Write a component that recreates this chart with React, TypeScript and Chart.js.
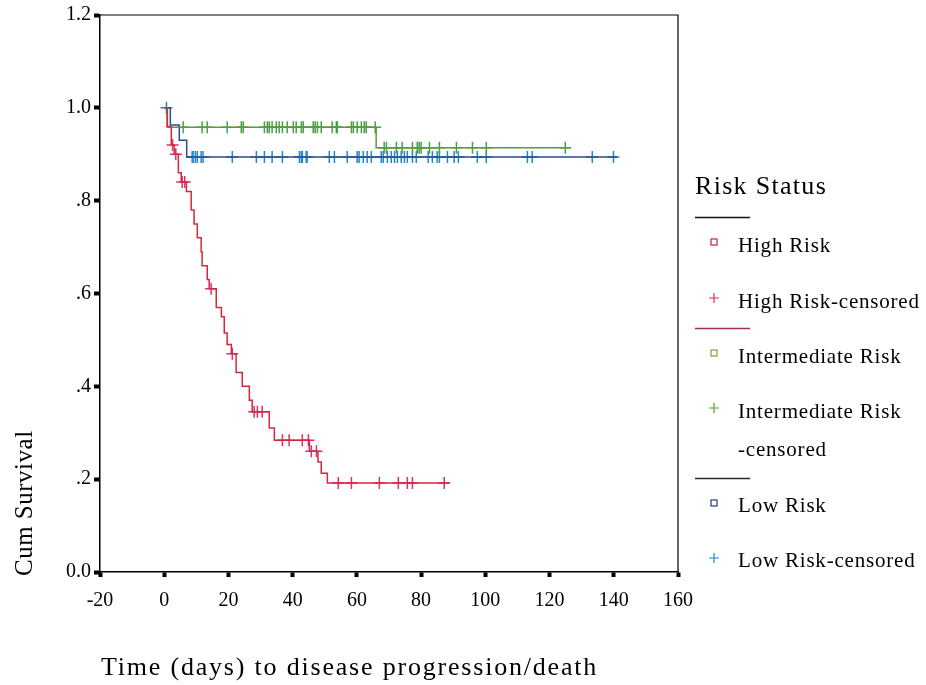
import React, { useEffect, useRef } from 'react';
import { Chart, registerables } from 'chart.js';

Chart.register(...registerables);

// ---- Data ----
const xTickValues = [-20, 0, 20, 40, 60, 80, 100, 120, 140, 160];
const yTickValues = [0, 0.2, 0.4, 0.6, 0.8, 1.0, 1.2];

const highRiskTimes = [0, 0.9, 2.2, 3.1, 4.4, 5.3, 6.9, 8.4, 9.3, 10.3, 11.5, 11.8, 13.4, 14.0, 16.2, 17.8, 18.7, 19.6, 20.9, 22.4, 24.3, 26.5, 27.4, 32.7, 34.3, 45.2, 47.9, 48.9, 50.8, 88.8];
const highRiskSurv = [1.0, 0.96, 0.92, 0.9, 0.86, 0.84, 0.82, 0.78, 0.75, 0.72, 0.69, 0.66, 0.63, 0.61, 0.57, 0.55, 0.515, 0.49, 0.47, 0.43, 0.4, 0.37, 0.345, 0.31, 0.284, 0.26, 0.237, 0.213, 0.192, 0.192];
const highRiskCensored = [2.6, 3.6, 5.6, 6.4, 14.6, 21.2, 28.0, 29.0, 30.5, 36.8, 38.9, 43.0, 44.9, 45.8, 47.4, 54.2, 58.3, 67.0, 72.9, 75.7, 77.3, 87.2];

const interTimes = [0, 1.0, 66.0, 126.2];
const interSurv = [1.0, 0.958, 0.914, 0.914];
const interCensored = [5.9, 11.8, 13.4, 19.6, 24.0, 24.6, 31.2, 32.1, 32.7, 33.6, 34.9, 35.8, 36.8, 38.3, 40.2, 41.1, 42.7, 43.3, 46.4, 47.0, 47.7, 48.9, 52.3, 53.6, 53.9, 58.3, 58.9, 60.1, 61.4, 62.3, 62.9, 65.7, 68.5, 69.2, 72.3, 74.1, 77.3, 78.8, 79.4, 80.0, 82.6, 85.7, 91.0, 96.0, 100.3, 124.9];

const lowTimes = [0, 1.9, 4.7, 7.0, 141.1];
const lowSurv = [1.0, 0.963, 0.93, 0.894, 0.894];
const lowCensored = [0.7, 8.7, 9.0, 9.7, 10.3, 11.5, 12.1, 21.2, 28.7, 31.2, 33.6, 36.8, 42.1, 42.7, 43.0, 44.2, 44.5, 51.4, 53.0, 57.0, 60.1, 60.7, 62.0, 63.2, 64.5, 67.6, 68.2, 69.5, 70.7, 71.7, 72.6, 73.8, 74.8, 75.7, 77.3, 78.5, 82.2, 83.5, 85.0, 85.7, 88.2, 90.3, 91.6, 97.5, 100.3, 113.1, 114.6, 133.3, 139.9];

const legendTitle = 'Risk Status';
const legendLabels = ['High Risk', 'High Risk-censored', 'Intermediate Risk', 'Intermediate Risk', '-censored', 'Low Risk', 'Low Risk-censored'];
const xTitle = 'Time (days) to disease progression/death';
const yTitle = 'Cum Survival';

// ---- Colours ----
const RED_LINE = '#d4283e';
const RED_MARK = '#d8326e';
const GREEN_LINE = '#5f9a36';
const GREEN_MARK = '#46a044';
const BLUE_LINE = '#2f4a92';
const BLUE_MARK = '#2288cc';

const SERIF = '"Liberation Serif", "Times New Roman", serif';

function survivalAt(times: number[], surv: number[], t: number): number {
  let s = surv[0];
  for (let i = 0; i < times.length; i++) {
    if (t >= times[i]) s = surv[i];
  }
  return s;
}

function curve(times: number[], surv: number[]) {
  return times.map((t, i) => ({ x: t, y: surv[i] }));
}

function censorPoints(times: number[], surv: number[], cens: number[]) {
  return cens.map((t) => ({ x: t, y: survivalAt(times, surv, t) }));
}

const fmtY = (v: number) => {
  const r = Math.round(v * 10) / 10;
  if (r === 0) return '0.0';
  if (r >= 1) return r.toFixed(1);
  return r.toFixed(1).replace(/^0/, '');
};

const decorPlugin = {
  id: 'decor',
  afterDraw(chart: any) {
    const { ctx, chartArea } = chart;
    ctx.save();
    // top & right frame
    ctx.strokeStyle = '#000';
    ctx.lineWidth = 1.2;
    ctx.beginPath();
    ctx.moveTo(chartArea.left, chartArea.top);
    ctx.lineTo(chartArea.right, chartArea.top);
    ctx.lineTo(chartArea.right, chartArea.bottom);
    ctx.stroke();

    ctx.fillStyle = '#000';
    // axis titles
    ctx.font = `26px ${SERIF}`;
    ctx.textAlign = 'left';
    ctx.textBaseline = 'alphabetic';
    (ctx as any).letterSpacing = '1.8px';
    ctx.fillText(xTitle, 101, 675);
    (ctx as any).letterSpacing = '0.5px';
    ctx.font = `25px ${SERIF}`;
    ctx.save();
    ctx.translate(32, 576);
    ctx.rotate(-Math.PI / 2);
    ctx.fillText(yTitle, 0, 0);
    ctx.restore();

    // legend
    ctx.textAlign = 'left';
    ctx.font = `26px ${SERIF}`;
    (ctx as any).letterSpacing = '1.3px';
    ctx.fillText(legendTitle, 695, 194);
    ctx.font = `21px ${SERIF}`;
    (ctx as any).letterSpacing = '0.8px';
    const textX = 738;
    const baselines = [252, 308, 363, 418, 456, 512, 567];
    legendLabels.forEach((l, i) => ctx.fillText(l, textX, baselines[i]));
    (ctx as any).letterSpacing = '0px';

    // separator lines
    const seps: [number, string][] = [[217, '#111'], [328, '#a0304c'], [478, '#223022']];
    ctx.lineWidth = 1.5;
    seps.forEach(([y, c]) => {
      ctx.strokeStyle = c;
      ctx.beginPath();
      ctx.moveTo(695, y + 0.5);
      ctx.lineTo(750, y + 0.5);
      ctx.stroke();
    });

    // markers
    const mx = 714;
    const square = (y: number, c: string) => {
      ctx.strokeStyle = c;
      ctx.lineWidth = 1.2;
      ctx.strokeRect(mx - 3, y - 3, 6, 6);
    };
    const plus = (y: number, c: string) => {
      ctx.strokeStyle = c;
      ctx.lineWidth = 1.2;
      ctx.beginPath();
      ctx.moveTo(mx - 5, y);
      ctx.lineTo(mx + 5, y);
      ctx.moveTo(mx, y - 5);
      ctx.lineTo(mx, y + 5);
      ctx.stroke();
    };
    square(242, '#c02040');
    plus(298, RED_MARK);
    square(353, '#8a9a40');
    plus(408, GREEN_LINE);
    square(503, '#2a3a80');
    plus(558, BLUE_MARK);
    ctx.restore();
  },
};

export default function App() {
  const canvasRef = useRef<HTMLCanvasElement | null>(null);

  useEffect(() => {
    document.body.style.margin = '0';
    const canvas = canvasRef.current;
    if (!canvas) return;

    const lineDs = (label: string, times: number[], surv: number[], color: string) => ({
      type: 'line' as const,
      label,
      data: curve(times, surv),
      borderColor: color,
      backgroundColor: color,
      borderWidth: 1.5,
      stepped: true,
      pointRadius: 0,
      fill: false,
    });
    const censDs = (label: string, times: number[], surv: number[], cens: number[], color: string) => ({
      type: 'line' as const,
      label,
      data: censorPoints(times, surv, cens),
      showLine: false,
      borderColor: color,
      backgroundColor: color,
      pointStyle: 'cross',
      pointRadius: 6,
      pointBorderWidth: 1.5,
    });

    const chart = new Chart(canvas, {
      type: 'line',
      data: {
        datasets: [
          lineDs('High Risk', highRiskTimes, highRiskSurv, RED_LINE),
          censDs('High Risk-censored', highRiskTimes, highRiskSurv, highRiskCensored, RED_MARK),
          lineDs('Intermediate Risk', interTimes, interSurv, GREEN_LINE),
          censDs('Intermediate Risk-censored', interTimes, interSurv, interCensored, GREEN_MARK),
          lineDs('Low Risk', lowTimes, lowSurv, BLUE_LINE),
          censDs('Low Risk-censored', lowTimes, lowSurv, lowCensored, BLUE_MARK),
        ] as any,
      },
      options: {
        responsive: false,
        animation: false,
        layout: { padding: { top: 15, right: 248, left: 0, bottom: 0 } },
        plugins: {
          legend: { display: false },
          tooltip: { enabled: false },
          title: { display: false },
        },
        scales: {
          x: {
            type: 'linear',
            min: -20,
            max: 160,
            afterBuildTicks: (scale: any) => {
              scale.ticks = xTickValues.map((v) => ({ value: v }));
            },
            afterFit: (scale: any) => {
              scale.height = 113;
            },
            ticks: {
              color: '#000',
              font: { family: SERIF, size: 20 },
              padding: 12,
              maxRotation: 0,
              autoSkip: false,
              callback: (v: any) => String(v),
            },
            grid: { drawOnChartArea: false, tickLength: 5, tickWidth: 4, color: '#000' },
            border: { display: true, color: '#000', width: 1.5 },
          },
          y: {
            type: 'linear',
            min: 0,
            max: 1.2,
            afterBuildTicks: (scale: any) => {
              scale.ticks = yTickValues.map((v) => ({ value: v }));
            },
            afterFit: (scale: any) => {
              scale.width = 100;
            },
            ticks: {
              color: '#000',
              font: { family: SERIF, size: 20 },
              padding: 3,
              autoSkip: false,
              callback: (v: any) => fmtY(Number(v)),
            },
            grid: { drawOnChartArea: false, tickLength: 6, tickWidth: 4, color: '#000' },
            border: { display: true, color: '#000', width: 1.5 },
          },
        },
      } as any,
      plugins: [decorPlugin],
    });

    return () => chart.destroy();
  }, []);

  return (
    <div style={{ width: 926, height: 685, background: '#fff' }}>
      <canvas ref={canvasRef} width={926} height={685} />
    </div>
  );
}
